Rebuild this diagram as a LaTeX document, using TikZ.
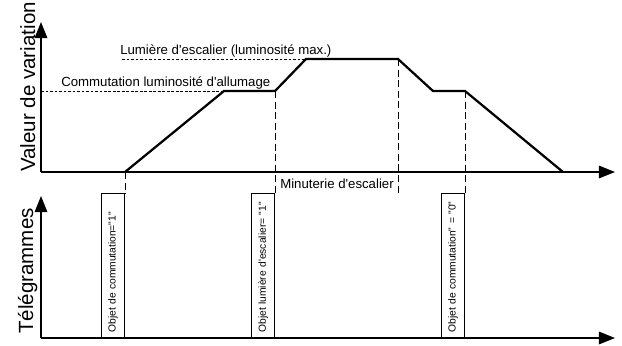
\documentclass[tikz,border=0pt]{standalone}
\usepackage{fontspec}
\setmainfont{Liberation Sans}[Ligatures=TeXOff]
\usetikzlibrary{arrows.meta}

\tikzset{
  axis/.style={line width=0.9pt, -{Triangle[length=11.5pt, width=9pt]}},
  signal/.style={line width=1.6pt, line join=miter},
  guide/.style={line width=0.7pt, dash pattern=on 5pt off 2.5pt},
  level/.style={line width=0.5pt, dash pattern=on 2pt off 1.2pt},
  msgbox/.style={draw, line width=0.6pt, rotate=90, inner sep=0pt,
    minimum width=3.6cm, minimum height=0.575cm,
    text width=3.35cm, align=left, font=\fontsize{7.3}{8}\selectfont},
  lbl/.style={inner sep=0pt, font=\fontsize{9.4}{11}\selectfont},
  title/.style={inner sep=0pt, rotate=90, font=\fontsize{14.6}{16}\selectfont}
}

\begin{document}
\begin{tikzpicture}[x=0.025cm, y=-0.025cm]
  \useasboundingbox (0,0) rectangle (622,345);

  % axes of the upper diagram
  \coordinate (o1) at (41,172);
  \draw[axis] (o1) -- (41,22);
  \draw[axis] (o1) -- (615,172);
  \node[title, anchor=base west] at (35,172) {Valeur de variation};

  % axes of the lower diagram
  \coordinate (o2) at (41,338);
  \draw[axis] (o2) -- (41,196);
  \draw[axis] (o2) -- (615,338);
  \node[title, anchor=base west] at (33,334) {Télégrammes};

  % brightness curve
  \coordinate (p0) at (125,172);
  \coordinate (p1) at (224,91);
  \coordinate (p2) at (275,91);
  \coordinate (p3) at (306,59);
  \coordinate (p4) at (398,59);
  \coordinate (p5) at (433,91);
  \coordinate (p6) at (465,91);
  \coordinate (p7) at (563,172);
  \draw[signal] (p0) -- (p1) -- (p2) -- (p3) -- (p4) -- (p5) -- (p6) -- (p7);

  % levels
  \draw[level] (41,91) -- (p1);
  \node[lbl, anchor=base west] at (61,86) {Commutation luminosité d'allumage};
  \draw[level] (122,59) -- (p3);
  \node[lbl, anchor=base west] at (120,54) {Lumière d'escalier (luminosité max.)};

  % telegrams
  \node[msgbox, anchor=south west] (m1) at (125,338) {Objet de commutation="1"};
  \node[msgbox, anchor=south west] (m2) at (275,338) {Objet lumière d'escalier= "1"};
  \node[msgbox, anchor=south west] (m3) at (465,338) {Objet de commutation" = "0"};

  \draw[guide] (p0) -- (m1.south east);
  \draw[guide] (p2) -- (m2.south east);
  \draw[guide] (p6) -- (m3.south east);

  % stair timer
  \coordinate (t) at (398,193);
  \draw[guide] (p4) -- (t);
  \node[lbl, anchor=base west] at (280,188) {Minuterie d'escalier};
\end{tikzpicture}
\end{document}
